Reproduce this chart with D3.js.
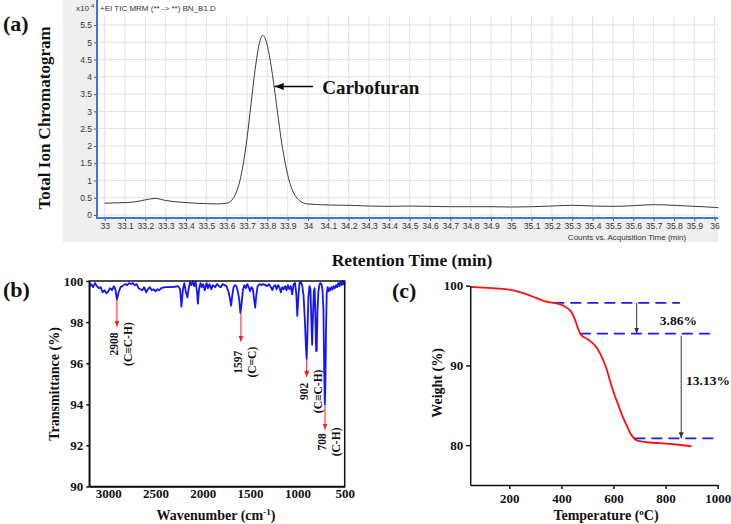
<!DOCTYPE html>
<html>
<head>
<meta charset="utf-8">
<script src="https://cdn.jsdelivr.net/npm/d3@7"></script>
<style>
  body { margin: 0; background: #fff; }
  svg { display: block; }
</style>
</head>
<body>
<svg id="fig" width="731" height="524"></svg>
<script>
// ---- (a) chromatogram, counts in x10^4
const chromTime = [33.0, 33.05, 33.1, 33.15, 33.2, 33.25, 33.3, 33.35, 33.4, 33.45, 33.5, 33.55, 33.6,
  33.62, 33.64, 33.66, 33.68, 33.70, 33.72, 33.74, 33.76, 33.777, 33.79, 33.81, 33.83, 33.85, 33.87,
  33.89, 33.91, 33.93, 33.95, 33.97, 34.0, 34.1, 34.2, 34.3, 34.4, 34.5, 34.6, 34.7, 34.8, 34.9, 35.0,
  35.1, 35.2, 35.3, 35.4, 35.5, 35.6, 35.7, 35.8, 35.9, 36.0, 36.02];
const chromCounts = [0.34, 0.35, 0.36, 0.38, 0.44, 0.48, 0.42, 0.38, 0.36, 0.34, 0.33, 0.32, 0.34,
  0.40, 0.56, 0.88, 1.42, 2.22, 3.22, 4.22, 4.95, 5.20, 5.10, 4.62, 3.86, 2.98, 2.11,
  1.44, 0.94, 0.63, 0.46, 0.37, 0.32, 0.29, 0.28, 0.26, 0.25, 0.26, 0.25, 0.24, 0.24, 0.24, 0.23,
  0.24, 0.26, 0.28, 0.26, 0.25, 0.27, 0.30, 0.28, 0.25, 0.22, 0.21];
const timeTicks = [33, 33.1, 33.2, 33.3, 33.4, 33.5, 33.6, 33.7, 33.8, 33.9, 34, 34.1, 34.2, 34.3, 34.4,
  34.5, 34.6, 34.7, 34.8, 34.9, 35, 35.1, 35.2, 35.3, 35.4, 35.5, 35.6, 35.7, 35.8, 35.9, 36];
const countTicks = [0, 0.5, 1, 1.5, 2, 2.5, 3, 3.5, 4, 4.5, 5, 5.5];

// ---- (b) FTIR
const irWave = [3200, 3180, 3160, 3140, 3120, 3100, 3080, 3060, 3040, 3020, 3000, 2980, 2960, 2940, 2925,
  2908, 2890, 2870, 2850, 2820, 2800, 2780, 2760, 2740, 2720, 2700, 2680, 2660, 2640, 2620, 2600, 2580,
  2560, 2540, 2520, 2500, 2480, 2460, 2440, 2400, 2350, 2300, 2260, 2240, 2226, 2210, 2195, 2180, 2163,
  2150, 2135, 2120, 2105, 2090, 2075, 2060, 2052, 2040, 2025, 2010, 1995, 1980, 1960, 1945, 1930, 1910,
  1895, 1870, 1850, 1830, 1810, 1790, 1770, 1750, 1730, 1715, 1701, 1688, 1675, 1660, 1645, 1630, 1615,
  1603, 1590, 1575, 1560, 1545, 1530, 1515, 1500, 1485, 1470, 1458, 1446, 1435, 1420, 1400, 1380, 1360,
  1340, 1320, 1300, 1280, 1265, 1250, 1235, 1220, 1205, 1190, 1175, 1160, 1145, 1130, 1115, 1100, 1085,
  1070, 1055, 1040, 1025, 1012, 1001, 990, 978, 965, 950, 935, 920, 910, 902, 894, 884, 872, 862, 852,
  844, 836, 826, 818, 810, 802, 796, 788, 778, 768, 758, 746, 735, 725, 716, 710, 704, 698, 690, 680,
  670, 660, 650, 640, 628, 618, 605, 592, 580, 568, 555, 545, 532, 520, 512, 505, 500];
const irTrans = [99.75, 99.85, 99.7, 99.9, 99.75, 99.65, 99.7, 99.45, 99.55, 99.4, 99.5, 99.65, 99.55, 99.75, 99.6,
  99.1, 99.45, 99.7, 99.75, 99.85, 99.8, 99.9, 99.85, 99.9, 99.8, 99.85, 99.65, 99.6, 99.55, 99.7, 99.45, 99.6,
  99.7, 99.55, 99.6, 99.5, 99.6, 99.55, 99.65, 99.7, 99.7, 99.72, 99.75, 99.6, 98.75, 99.6, 99.9, 99.5, 99.2,
  99.6, 99.95, 99.8, 100, 99.75, 99.95, 99.4, 98.9, 99.6, 99.9, 99.7, 99.85, 99.55, 99.9, 99.65, 99.85, 99.6,
  99.8, 99.7, 99.85, 99.75, 99.7, 99.85, 99.8, 99.75, 99.5, 99.2, 98.8, 99.3, 99.7, 99.8, 99.75, 99.5, 99.1,
  98.45, 98.9, 99.6, 99.8, 99.65, 99.85, 99.7, 99.5, 99.7, 99.6, 99.1, 98.7, 99.3, 99.75, 99.85, 99.8, 99.85,
  99.8, 99.75, 99.85, 99.7, 99.55, 99.75, 99.8, 99.6, 99.8, 99.7, 99.45, 99.7, 99.6, 99.75, 99.55, 99.8, 99.6,
  99.75, 99.35, 99.85, 99.9, 99.4, 98.3, 99.2, 99.9, 99.95, 99.8, 99.3, 98.0, 96.8, 96.2, 97.4, 99.2, 99.75, 99.6, 98.0,
  96.9, 98.2, 99.5, 99.65, 98.4, 96.6, 96.6, 98.5, 99.5, 99.8, 99.9, 99.85, 99.6, 98.6, 95.5, 94.0, 95.0, 97.5, 99.4, 99.7,
  99.5, 99.65, 99.55, 99.7, 99.6, 99.75, 99.65, 99.8, 99.7, 99.9, 99.75, 99.95, 99.8, 100, 99.85, 99.95, 99.8];
const waveTicks = [3000, 2500, 2000, 1500, 1000, 500];
const transTicks = [90, 92, 94, 96, 98, 100];
const irPeakWave = [2908, 1597, 902, 708];
const irPeakBond = ["(C\u2261C-H)", "(C=C)", "(C\u2261C-H)", "(C-H)"];
const irPeakFrom = [99.1, 98.45, 96.2, 94.0];
const irPeakTo = [97.78, 97.05, 95.33, 92.77];
const irPeakTextAt = [96.93, 96.05, 94.63, 92.17];

// ---- (c) TGA
const tgaTemp = [50, 100, 150, 200, 250, 300, 340, 370, 400, 420, 440, 455, 465, 472, 480, 500, 520, 540,
  560, 575, 590, 605, 620, 635, 650, 665, 680, 700, 750, 800, 850, 900];
const tgaWeight = [99.85, 99.75, 99.65, 99.5, 99.1, 98.5, 98.0, 97.85, 97.6, 97.25, 96.6, 95.5, 94.5, 94.0,
  93.7, 93.3, 92.8, 92.0, 90.7, 89.4, 87.7, 86.2, 84.9, 83.6, 82.5, 81.5, 80.8, 80.5, 80.3, 80.2, 80.05, 79.85];
const tempTicks = [200, 400, 600, 800, 1000];
const weightTicks = [80, 90, 100];
const stepLevel = [97.85, 93.99, 80.86];
const stepFrom = [369, 471, 680];
const stepTo = [855, 990, 990];

const serif = '"Liberation Serif","Times New Roman",serif';
const sans = '"Liberation Sans",Arial,sans-serif';
const svg = d3.select('#fig');

const defs = svg.append('defs');
function arrowMarker(id, color, w, h) {
  defs.append('marker').attr('id', id)
    .attr('markerUnits', 'userSpaceOnUse')
    .attr('markerWidth', w).attr('markerHeight', h)
    .attr('refX', w).attr('refY', h / 2).attr('orient', 'auto')
    .append('path').attr('d', `M0,0L${w},${h / 2}L0,${h}Z`).attr('fill', color);
}
arrowMarker('arrBlack', '#000', 9, 7);
arrowMarker('arrRed', '#ff1a1a', 6, 5);
arrowMarker('arrGrey', '#333', 6, 5);

function boldText(sel, size) {
  sel.selectAll('text').attr('font-family', serif).attr('font-weight', 'bold')
    .attr('font-size', size).attr('fill', '#111');
}

// ================= (a) =================
const aLeft = 97, aRight = 718, aTop = 16, aBottom = 218;
const ax = d3.scaleLinear().domain([33, 36]).range([104.7, 714.6]);
const ay = d3.scaleLinear().domain([0, 5.5]).range([215, 25]);

svg.append('rect').attr('x', 63).attr('y', 0).attr('width', aRight - 63).attr('height', 242).attr('fill', '#efefef');
svg.append('rect').attr('x', aLeft).attr('y', 0).attr('width', aRight - aLeft).attr('height', aBottom).attr('fill', '#fff');

const grid = svg.append('g').attr('stroke', '#e2e2e2').attr('stroke-width', 1);
grid.selectAll('.vg').data(timeTicks).enter().append('line')
  .attr('x1', d => ax(d)).attr('x2', d => ax(d)).attr('y1', aTop).attr('y2', aBottom);
grid.selectAll('.hg').data(countTicks).enter().append('line')
  .attr('x1', aLeft).attr('x2', aRight).attr('y1', d => ay(d)).attr('y2', d => ay(d));

svg.append('path').datum(chromTime.map((t, i) => [t, chromCounts[i]]))
  .attr('fill', 'none').attr('stroke', '#3a3a3a').attr('stroke-width', 1)
  .attr('d', d3.line().x(d => ax(d[0])).y(d => ay(d[1])).curve(d3.curveMonotoneX));

const axA = svg.append('g').attr('transform', `translate(0,${aBottom})`)
  .call(d3.axisBottom(ax).tickValues(timeTicks).tickSize(3).tickPadding(2).tickFormat(d => String(+d.toFixed(1))));
const ayA = svg.append('g').attr('transform', `translate(${aLeft},0)`)
  .call(d3.axisLeft(ay).tickValues(countTicks).tickSize(3).tickPadding(2).tickFormat(d => String(d)));
[axA, ayA].forEach(g => {
  g.select('.domain').remove();
  g.selectAll('line').attr('stroke', '#555');
  g.selectAll('text').attr('font-family', sans).attr('font-size', 8.5).attr('fill', '#333');
});

svg.append('line').attr('x1', aLeft).attr('x2', aLeft).attr('y1', 0).attr('y2', aBottom + 1)
  .attr('stroke', '#3b78d6').attr('stroke-width', 2);
svg.append('line').attr('x1', aLeft).attr('x2', aRight).attr('y1', aBottom).attr('y2', aBottom)
  .attr('stroke', '#3b78d6').attr('stroke-width', 2);

const hdr = svg.append('text').attr('x', 76).attr('y', 11).attr('font-family', sans).attr('font-size', 8).attr('fill', '#333');
hdr.append('tspan').text('x10');
hdr.append('tspan').attr('dx', 2).attr('dy', -3).attr('font-size', 6).text('4');
svg.append('text').attr('x', 100).attr('y', 11).attr('font-family', sans).attr('font-size', 8)
  .attr('fill', '#333').text('+EI TIC MRM (** -> **) BN_B1.D');
svg.append('text').attr('x', 627).attr('y', 240).attr('text-anchor', 'middle').attr('font-family', sans)
  .attr('font-size', 8).attr('fill', '#333').text('Counts vs. Acquisition Time (min)');

svg.append('line').attr('x1', ax(34.024)).attr('x2', ax(33.836)).attr('y1', ay(3.72)).attr('y2', ay(3.72))
  .attr('stroke', '#000').attr('stroke-width', 1.6).attr('marker-end', 'url(#arrBlack)');
svg.append('text').attr('x', ax(34.07)).attr('y', ay(3.5)).attr('font-family', serif).attr('font-weight', 'bold')
  .attr('font-size', 19).attr('fill', '#111').text('Carbofuran');

svg.append('text').attr('transform', 'translate(50,118) rotate(-90)').attr('text-anchor', 'middle')
  .attr('font-family', serif).attr('font-weight', 'bold').attr('font-size', 17).attr('fill', '#111')
  .text('Total Ion Chromatogram');
svg.append('text').attr('x', 412).attr('y', 266).attr('text-anchor', 'middle')
  .attr('font-family', serif).attr('font-weight', 'bold').attr('font-size', 17.5).attr('fill', '#111')
  .text('Retention Time (min)');
svg.append('text').attr('x', 3).attr('y', 31).attr('font-family', serif).attr('font-weight', 'bold')
  .attr('font-size', 22).attr('fill', '#111').text('(a)');

// ================= (b) =================
const bx = d3.scaleLinear().domain([3200, 500]).range([89.3, 344.7]);
const by = d3.scaleLinear().domain([90, 100]).range([486.5, 281]);

svg.append('path').datum(irWave.map((w, i) => [w, irTrans[i]]))
  .attr('fill', 'none').attr('stroke', '#1414ff').attr('stroke-width', 1.8).attr('stroke-linejoin', 'round')
  .attr('d', d3.line().x(d => bx(d[0])).y(d => by(d[1])));

svg.append('rect').attr('x', bx(3200)).attr('y', by(100)).attr('width', bx(500) - bx(3200))
  .attr('height', by(90) - by(100)).attr('fill', 'none').attr('stroke', '#111').attr('stroke-width', 1.5);

const byA = svg.append('g').attr('transform', `translate(${bx(3200)},0)`)
  .call(d3.axisLeft(by).tickValues(transTicks).tickSize(3).tickSizeOuter(0).tickPadding(3).tickFormat(d3.format('d')));
const bxA = svg.append('g').attr('transform', `translate(0,${by(90)})`)
  .call(d3.axisBottom(bx).tickValues(waveTicks).tickSize(0).tickSizeOuter(0).tickPadding(2).tickFormat(d3.format('d')));
[byA, bxA].forEach(g => {
  g.select('.domain').attr('stroke', '#111').attr('stroke-width', 1.5);
  g.selectAll('line').attr('stroke', '#111').attr('stroke-width', 1.5);
  boldText(g, 13);
});

irPeakWave.forEach((w, i) => {
  svg.append('line').attr('x1', bx(w)).attr('x2', bx(w)).attr('y1', by(irPeakFrom[i])).attr('y2', by(irPeakTo[i]))
    .attr('stroke', '#ff1a1a').attr('stroke-width', 1).attr('marker-end', 'url(#arrRed)');
  const cy = by(irPeakTextAt[i]);
  svg.append('text').attr('transform', `translate(${bx(w) - 3},${cy}) rotate(-90)`)
    .attr('text-anchor', 'middle').attr('dominant-baseline', 'central')
    .attr('font-family', serif).attr('font-weight', 'bold').attr('font-size', 11.5).attr('fill', '#111').text(w);
  svg.append('text').attr('transform', `translate(${bx(w) + 11},${cy}) rotate(-90)`)
    .attr('text-anchor', 'middle').attr('dominant-baseline', 'central')
    .attr('font-family', serif).attr('font-weight', 'bold').attr('font-size', 11.5).attr('fill', '#111').text(irPeakBond[i]);
});

svg.append('text').attr('transform', 'translate(54,384) rotate(-90)').attr('text-anchor', 'middle')
  .attr('dominant-baseline', 'central').attr('font-family', serif).attr('font-weight', 'bold')
  .attr('font-size', 14).attr('fill', '#111').text('Transmittance (%)');
const wlab = svg.append('text').attr('x', 216).attr('y', 520).attr('text-anchor', 'middle')
  .attr('font-family', serif).attr('font-weight', 'bold').attr('font-size', 14).attr('fill', '#111');
wlab.append('tspan').text('Wavenumber (cm');
wlab.append('tspan').attr('dy', -5).attr('font-size', 9).text('-1');
wlab.append('tspan').attr('dy', 5).text(')');
svg.append('text').attr('x', 3).attr('y', 297).attr('font-family', serif).attr('font-weight', 'bold')
  .attr('font-size', 22).attr('fill', '#111').text('(b)');

// ================= (c) =================
const cx = d3.scaleLinear().domain([50, 1000]).range([470.2, 717.7]);
const cy = d3.scaleLinear().domain([75, 100]).range([485, 285.7]);

stepLevel.forEach((v, i) => {
  svg.append('line').attr('x1', cx(stepFrom[i])).attr('x2', cx(stepTo[i])).attr('y1', cy(v)).attr('y2', cy(v))
    .attr('stroke', '#1a1aff').attr('stroke-width', 1.8).attr('stroke-dasharray', '11,6');
});

svg.append('path').datum(tgaTemp.map((t, i) => [t, tgaWeight[i]]))
  .attr('fill', 'none').attr('stroke', '#ff1010').attr('stroke-width', 1.8)
  .attr('d', d3.line().x(d => cx(d[0])).y(d => cy(d[1])).curve(d3.curveMonotoneX));

svg.append('line').attr('x1', cx(689)).attr('x2', cx(689)).attr('y1', cy(stepLevel[0])).attr('y2', cy(stepLevel[1]))
  .attr('stroke', '#333').attr('stroke-width', 1).attr('marker-end', 'url(#arrGrey)');
svg.append('line').attr('x1', cx(860)).attr('x2', cx(860)).attr('y1', cy(stepLevel[1]) + 2).attr('y2', cy(stepLevel[2]))
  .attr('stroke', '#333').attr('stroke-width', 1).attr('marker-end', 'url(#arrGrey)');

svg.append('text').attr('x', cx(849)).attr('y', cy(95.1)).attr('text-anchor', 'middle')
  .attr('font-family', serif).attr('font-weight', 'bold').attr('font-size', 13.5).attr('fill', '#111').text('3.86%');
svg.append('text').attr('x', cx(963)).attr('y', cy(87.5)).attr('text-anchor', 'middle')
  .attr('font-family', serif).attr('font-weight', 'bold').attr('font-size', 13.5).attr('fill', '#111').text('13.13%');

const cyA = svg.append('g').attr('transform', `translate(${cx(50)},0)`)
  .call(d3.axisLeft(cy).tickValues(weightTicks).tickSize(4).tickSizeOuter(0).tickPadding(3).tickFormat(d3.format('d')));
const cxA = svg.append('g').attr('transform', `translate(0,${cy(75)})`)
  .call(d3.axisBottom(cx).tickValues(tempTicks).tickSize(4).tickSizeOuter(0).tickPadding(5).tickFormat(d3.format('d')));
[cyA, cxA].forEach(g => {
  g.select('.domain').attr('stroke', '#111').attr('stroke-width', 1.5);
  g.selectAll('line').attr('stroke', '#111').attr('stroke-width', 1.5);
  boldText(g, 13);
});

svg.append('text').attr('transform', 'translate(437,383) rotate(-90)').attr('text-anchor', 'middle')
  .attr('dominant-baseline', 'central').attr('font-family', serif).attr('font-weight', 'bold')
  .attr('font-size', 14).attr('fill', '#111').text('Weight (%)');
const tlab = svg.append('text').attr('x', 606).attr('y', 520).attr('text-anchor', 'middle')
  .attr('font-family', serif).attr('font-weight', 'bold').attr('font-size', 14).attr('fill', '#111');
tlab.append('tspan').text('Temperature (');
tlab.append('tspan').attr('dy', -5).attr('font-size', 9).text('o');
tlab.append('tspan').attr('dy', 5).text('C)');
svg.append('text').attr('x', 392).attr('y', 298).attr('font-family', serif).attr('font-weight', 'bold')
  .attr('font-size', 22).attr('fill', '#111').text('(c)');
</script>
</body>
</html>
